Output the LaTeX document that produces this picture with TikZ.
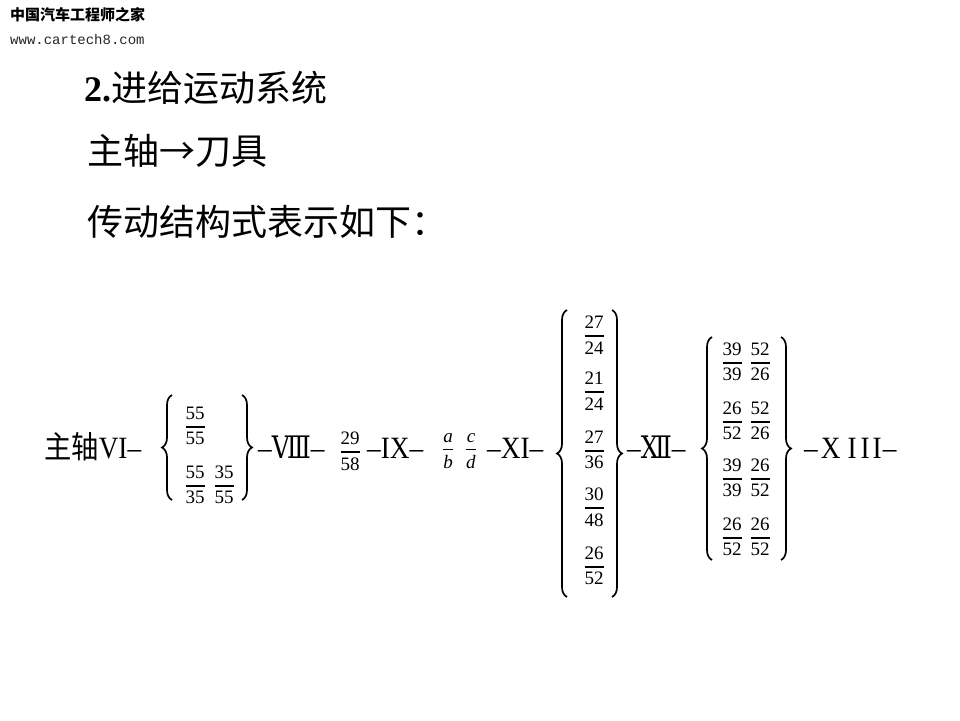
\documentclass[tikz,border=0pt]{standalone}
\usepackage{amsmath}
\usepackage{fontspec}
\setmainfont{Liberation Serif}
\setmonofont{Liberation Mono}
\newfontfamily\cjk{Noto Sans CJK SC}
\newfontfamily\rowcjk[FakeStretch=0.88]{Noto Sans CJK SC}
\newfontfamily\rowrm[FakeStretch=0.88]{Liberation Serif}
\newfontfamily\romfont[FakeStretch=0.8]{DejaVu Serif}
\usetikzlibrary{decorations.pathreplacing}

% gear pair as a fraction
\newcommand\gfr[2]{$\genfrac{}{}{1.6pt}{0}{\text{#1}}{\text{#2}}$}

\begin{document}
\begin{tikzpicture}[x=1pt,y=-1pt,
  txt/.style={inner sep=0pt,anchor=base west},
  row/.style={txt,font=\fontsize{31}{34}\rowrm},
  frac/.style={inner sep=0pt,font=\fontsize{19}{22}\selectfont},
  brc/.style={decorate,decoration={brace,amplitude=10pt},line width=1.7pt}]
\useasboundingbox (0,0) rectangle (960,720);

% header
\node[txt,font=\fontsize{15}{17}\cjk\bfseries] (logo) at (10,20) {中国汽车工程师之家};
\node[txt,font=\fontsize{14}{16}\ttfamily,text=black!85] (web) at (10,44) {www.cartech8.com};

\node[txt,font=\fontsize{36}{40}\selectfont] (t1) at (84,101) {\textbf{2.}{\cjk 进给运动系统}};
\node[txt,font=\fontsize{36}{40}\cjk] (t2) at (87,164) {主轴→刀具};
\node[txt,font=\fontsize{36}{40}\cjk] (t3) at (87,235) {传动结构式表示如下：};

% structure formula
\node[row] (vi) at (44,458) {{\rowcjk 主轴}VI–};
\draw[brc] (172,500) -- (172,395);
\node[frac] (g1a) at (195,426) {\gfr{55}{55}};
\node[frac] (g1b) at (195,485) {\gfr{55}{35}};
\node[frac] (g1c) at (224,485) {\gfr{35}{55}};
\draw[brc] (242,395) -- (242,500);

\node[row] (viii) at (258,458) {–{\romfont Ⅷ}–};
\node[frac] (f29) at (350,451) {\gfr{29}{58}};
\node[row] (ix) at (367,458) {–IX–};
\node[frac] (fab) at (448,451) {\gfr{\textit{a}}{\textit{b}}};
\node[frac] (fcd) at (471,451) {\gfr{\textit{c}}{\textit{d}}};
\node[row] (xi) at (487,458) {–XI–};

\draw[brc] (567,597) -- (567,310);
\node[frac] (g3a) at (594,335) {\gfr{27}{24}};
\node[frac] (g3b) at (594,391) {\gfr{21}{24}};
\node[frac] (g3c) at (594,450) {\gfr{27}{36}};
\node[frac] (g3d) at (594,507) {\gfr{30}{48}};
\node[frac] (g3e) at (594,566) {\gfr{26}{52}};
\draw[brc] (612,310) -- (612,597);

\node[row] (xii) at (627,458) {–{\romfont Ⅻ}–};
\draw[brc] (712,560) -- (712,337);
\node[frac] (g4a) at (732,362) {\gfr{39}{39}};
\node[frac] (g4b) at (760,362) {\gfr{52}{26}};
\node[frac] (g4c) at (732,421) {\gfr{26}{52}};
\node[frac] (g4d) at (760,421) {\gfr{52}{26}};
\node[frac] (g4e) at (732,478) {\gfr{39}{39}};
\node[frac] (g4f) at (760,478) {\gfr{26}{52}};
\node[frac] (g4g) at (732,537) {\gfr{26}{52}};
\node[frac] (g4h) at (760,537) {\gfr{26}{52}};
\draw[brc] (781,337) -- (781,560);

\node[row] (xiii) at (804,458) {–\kern3pt X\kern7pt I\kern4pt I\kern3pt I\kern1pt–};
\end{tikzpicture}
\end{document}
